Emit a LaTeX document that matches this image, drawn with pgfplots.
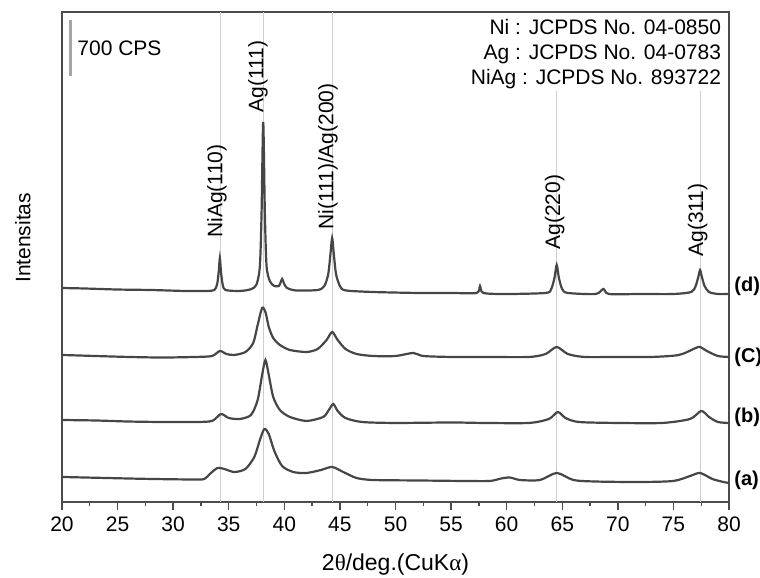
\documentclass[border=0pt]{standalone}
\usepackage{fontspec}
\setmainfont{Liberation Sans}
\newfontfamily\grk{Liberation Serif}
\usepackage{pgfplots}
\pgfplotsset{compat=1.18}
\definecolor{trace}{RGB}{70,70,70}
\definecolor{refline}{RGB}{205,205,205}
\tikzset{xrd/.style={trace, line width=1.1pt, smooth, tension=0.45, mark=none}}

\begin{document}
\begin{tikzpicture}
  \begin{axis}[
    scale only axis, width=333.5pt, height=245pt,
    xmin=20, xmax=80, ymin=0, ymax=6125,
    xtick={20,25,...,80}, minor x tick num=1,
    ytick=\empty, xtick pos=bottom,
    tick align=outside, major tick length=4pt, minor tick length=2pt,
    axis line style={black!70, line width=0.9pt},
    every tick/.style={black!70, line width=0.7pt},
    ticklabel style={font=\fontsize{10.5}{12}\selectfont},
    /pgf/number format/assume math mode=true,
    xlabel={2{\grk θ}/deg.(CuK{\grk α})},
    xlabel style={at={(axis description cs:0.5,-0.1286)}, anchor=center,
      font=\fontsize{11.5}{13}\selectfont},
    ylabel={Intensitas},
    ylabel style={at={(axis description cs:-0.0585,0.539)}, anchor=center,
      font=\fontsize{10.5}{12}\selectfont},
    clip=false,
  ]
    % reference lines
    \draw[refline, line width=0.6pt] (axis cs:34.25,0) -- (axis cs:34.25,6125);
    \draw[refline, line width=0.6pt] (axis cs:38.1,0) -- (axis cs:38.1,6125);
    \draw[refline, line width=0.6pt] (axis cs:44.3,0) -- (axis cs:44.3,6125);
    \draw[refline, line width=0.6pt] (axis cs:64.5,0) -- (axis cs:64.5,5175);
    \draw[refline, line width=0.6pt] (axis cs:77.45,0) -- (axis cs:77.45,5175);

    % (d)
    \addplot[xrd] coordinates {
      (20,2675) (22,2669) (25,2656) (28,2650) (31,2638) (33,2638) (33.7,2650)
      (33.95,2720) (34.1,2880) (34.2,3050) (34.3,2880) (34.45,2720) (34.7,2650)
      (36,2638) (37.0,2660) (37.5,2720) (37.8,2950) (37.95,3600) (38.1,4750)
      (38.25,3600) (38.4,2950) (38.7,2760) (39.1,2700) (39.5,2700) (39.65,2740)
      (39.8,2788) (39.95,2740) (40.2,2680) (41,2645) (43,2650) (43.6,2700)
      (43.95,2850) (44.15,3100) (44.3,3300) (44.45,3100) (44.65,2850) (45.0,2700)
      (45.5,2645) (48,2625) (52,2613) (55,2613) (57.3,2613) (57.6,2700)
      (57.9,2613) (60,2600) (63.5,2613) (64.0,2660) (64.3,2800) (64.5,2963)
      (64.7,2800) (65.0,2660) (65.5,2613) (68,2600) (68.7,2663) (69.2,2600)
      (72,2600) (75,2600) (76.6,2625) (77.0,2700) (77.25,2820) (77.4,2900)
      (77.55,2820) (77.8,2700) (78.2,2625) (79,2600) (80,2600)};
    % (C)
    \addplot[xrd] coordinates {
      (20,1838) (23,1825) (26,1813) (29,1806) (32,1813) (33.5,1825)
      (34.2,1888) (34.8,1850) (35.5,1838) (36.5,1875) (37.2,1988) (37.6,2213)
      (38.0,2425) (38.3,2375) (38.6,2188) (39.0,2050) (39.6,1963) (40.5,1900)
      (42,1875) (43,1913) (43.8,2025) (44.3,2125) (44.8,2025) (45.5,1913)
      (46.5,1850) (48,1825) (50,1825) (51.6,1863) (52.5,1825) (55,1813)
      (58,1813) (62,1813) (63.5,1850) (64.5,1938) (65.5,1850) (67,1813)
      (70,1813) (73,1813) (75.5,1838) (77,1925) (77.4,1938) (78,1888)
      (79,1825) (80,1813)};
    % (b)
    \addplot[xrd] coordinates {
      (20,1025) (23,1019) (26,1006) (29,1000) (32,1000) (33.5,1013)
      (34.3,1100) (35.0,1050) (36,1038) (37.0,1088) (37.6,1275) (38.0,1588)
      (38.3,1775) (38.6,1588) (39.0,1313) (39.6,1150) (40.5,1063) (42,1013)
      (43.5,1063) (44.0,1150) (44.4,1225) (44.8,1138) (45.5,1050) (47,1000)
      (50,988) (55,994) (58,988) (62,988) (63.8,1038) (64.6,1125) (65.3,1050)
      (66.5,1000) (70,988) (74,988) (76.5,1038) (77.5,1138) (78.2,1063)
      (79,1000) (80,988)};
    % (a)
    \addplot[xrd] coordinates {
      (20,313) (24,300) (28,288) (32,281) (32.8,288) (33.4,363) (34.0,425)
      (34.6,413) (35.5,375) (36.5,413) (37.3,563) (37.8,775) (38.2,913)
      (38.6,850) (39.1,638) (39.8,450) (40.8,375) (42,363) (43.3,400)
      (44.3,438) (45.3,375) (46.5,300) (48,275) (52,269) (56,263) (58.5,263)
      (59.5,294) (60.3,306) (61.2,275) (63,275) (64.5,363) (66,275) (68,256)
      (72,250) (75,263) (76.5,325) (77.4,363) (78.5,288) (79.5,250) (80,238)};

    % peak labels
    \begin{scope}[every node/.style={rotate=90, anchor=west, inner sep=0pt,
        font=\fontsize{10.5}{12}\selectfont}]
      \node at (axis cs:33.94,3300) {NiAg(110)};
      \node at (axis cs:37.63,4863) {Ag(111)};
      \node at (axis cs:43.92,3400) {Ni(111)/Ag(200)};
      \node at (axis cs:64.33,3150) {Ag(220)};
      \node at (axis cs:77.19,3063) {Ag(311)};
    \end{scope}

    % sample labels
    \begin{scope}[every node/.style={anchor=west, inner sep=0pt,
        font=\bfseries\fontsize{10}{12}\selectfont}]
      \node at (axis cs:80.45,2700) {(d)};
      \node at (axis cs:80.45,1813) {(C)};
      \node at (axis cs:80.45,1063) {(b)};
      \node at (axis cs:80.45,275) {(a)};
    \end{scope}

    % scale bar
    \draw[black!35, line width=1.5pt] (axis cs:20.72,6025) -- (axis cs:20.72,5325);
    \node[anchor=west, inner sep=0pt, font=\fontsize{10.5}{12}\selectfont]
      at (axis cs:21.35,5675) {700 CPS};

    % JCPDS references
    \node[anchor=north east, align=right, fill=white, inner sep=1pt,
      font=\fontsize{10.5}{12.5}\selectfont]
      at (axis cs:79.5,6060) {Ni : JCPDS No. 04-0850\\Ag : JCPDS No. 04-0783\\NiAg : JCPDS No. 893722};
  \end{axis}
  \pgfresetboundingbox
  \path[use as bounding box] (-31pt,-38pt) rectangle (349pt,251pt);
\end{tikzpicture}
\end{document}
